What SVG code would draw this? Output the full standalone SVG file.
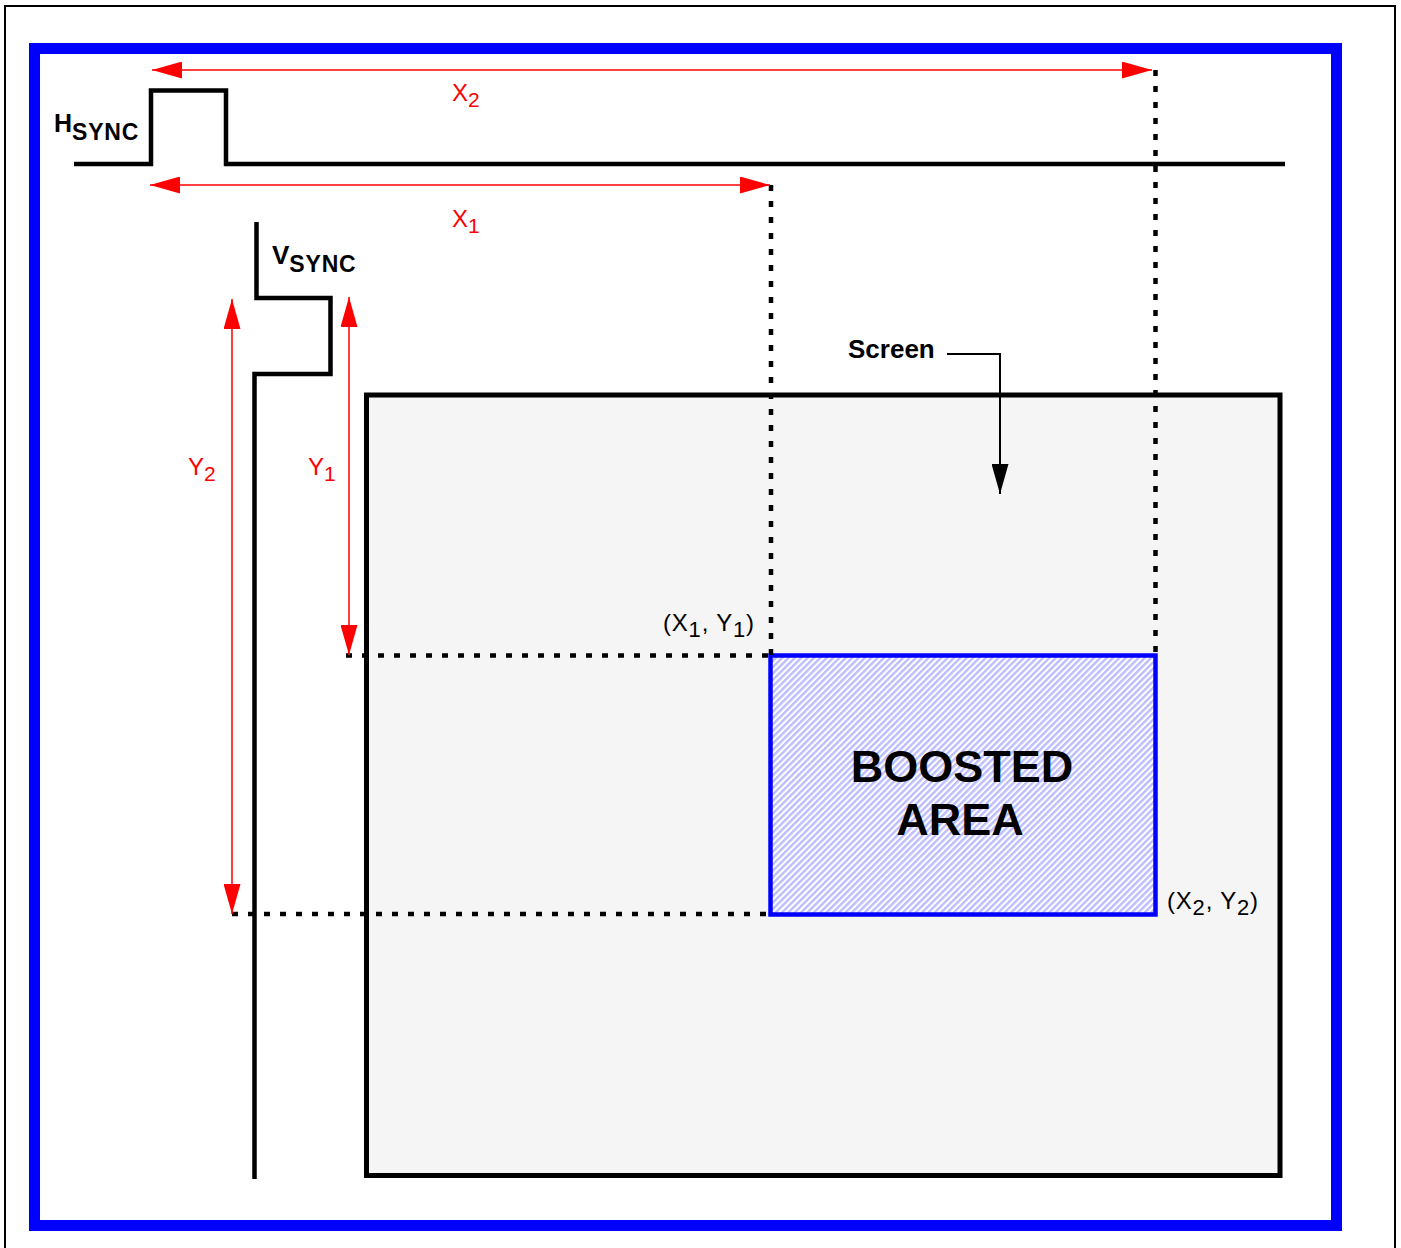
<svg xmlns="http://www.w3.org/2000/svg" width="1401" height="1248" viewBox="0 0 1401 1248">
<style>
.sig{fill:none;stroke:#000;stroke-width:4.5;stroke-linejoin:miter}
.dot{fill:none;stroke:#000;stroke-width:4.5;stroke-dasharray:6 10}
.dim{fill:none;stroke:#f00;stroke-width:1.5}
.lbl{font-family:"Liberation Sans",Arial,sans-serif;font-weight:bold;fill:#000}
.red{font-family:"Liberation Sans",Arial,sans-serif;fill:#f00;font-size:24px}
.coord{font-family:"Liberation Sans",Arial,sans-serif;fill:#000;font-size:24px;letter-spacing:0.8px}
</style>
<defs>
<marker id="ra" viewBox="0 0 30 17" refX="30" refY="8.5" markerWidth="30" markerHeight="17" markerUnits="userSpaceOnUse" orient="auto-start-reverse">
<path d="M0,0 L30,8.5 L0,17 z" fill="#f00"/>
</marker>
<marker id="ba" viewBox="0 0 30 17" refX="30" refY="8.5" markerWidth="30" markerHeight="17" markerUnits="userSpaceOnUse" orient="auto">
<path d="M0,0 L30,8.5 L0,17 z" fill="#000"/>
</marker>
<pattern id="hatch" width="4.5" height="4.5" patternUnits="userSpaceOnUse" patternTransform="rotate(45)">
<rect width="4.5" height="4.5" fill="#fff"/>
<rect width="2.4" height="4.5" fill="#bcbcff"/>
</pattern>
</defs>
<rect x="5" y="6" width="1390" height="1260" fill="none" stroke="#000" stroke-width="2"/>
<rect x="34.5" y="48.5" width="1302" height="1177" fill="none" stroke="#00f" stroke-width="11"/>

<g id="screen">
<rect x="366.5" y="395" width="913.5" height="780.5" fill="#f5f5f5" stroke="#000" stroke-width="5"/>
<text class="lbl" x="848" y="358" font-size="26">Screen</text>
</g>

<g id="boosted">
<rect x="770.5" y="655.5" width="385" height="259" fill="url(#hatch)" stroke="#00f" stroke-width="4.5"/>
<text class="lbl" x="962" y="782" font-size="45" text-anchor="middle">BOOSTED</text>
<text class="lbl" x="960" y="835" font-size="45" text-anchor="middle">AREA</text>
</g>

<g id="hsync">
<path class="sig" d="M74,164 H151 V90.5 H226 V164 H1285"/>
<text class="lbl" x="54" y="132" font-size="25">H<tspan font-size="23" dy="8" letter-spacing="0.8">SYNC</tspan></text>
</g>

<g id="vsync">
<path class="sig" d="M256.5,222 V298 H330.5 V374 H254.5 V1179"/>
<text class="lbl" x="272" y="264" font-size="26">V<tspan font-size="23" dy="8" letter-spacing="0.8">SYNC</tspan></text>
</g>

<g id="connectors">
<path class="dot" d="M1155.5,70 V655"/>
<path class="dot" d="M771,185 V655"/>
<path class="dot" d="M346,655.5 H770"/>
<path class="dot" d="M232,914 H770"/>
<path class="dim" d="M152,70 H1152" marker-start="url(#ra)" marker-end="url(#ra)"/>
<path class="dim" d="M150,185 H770" marker-start="url(#ra)" marker-end="url(#ra)"/>
<path class="dim" d="M232,299 V914" marker-start="url(#ra)" marker-end="url(#ra)"/>
<path class="dim" d="M349,297 V655" marker-start="url(#ra)" marker-end="url(#ra)"/>
<path d="M947,354 H1000 V494" fill="none" stroke="#000" stroke-width="2" marker-end="url(#ba)"/>
</g>

<g id="labels">
<text class="red" x="452" y="101">X<tspan font-size="21" dy="6">2</tspan></text>
<text class="red" x="452" y="227">X<tspan font-size="21" dy="6">1</tspan></text>
<text class="red" x="188" y="475">Y<tspan font-size="21" dy="6">2</tspan></text>
<text class="red" x="308" y="475">Y<tspan font-size="21" dy="6">1</tspan></text>
<text class="coord" x="663" y="631">(X<tspan font-size="22" dy="6">1</tspan><tspan dy="-6">, Y</tspan><tspan font-size="22" dy="6">1</tspan><tspan dy="-6">)</tspan></text>
<text class="coord" x="1167" y="909">(X<tspan font-size="22" dy="6">2</tspan><tspan dy="-6">, Y</tspan><tspan font-size="22" dy="6">2</tspan><tspan dy="-6">)</tspan></text>
</g>
</svg>
